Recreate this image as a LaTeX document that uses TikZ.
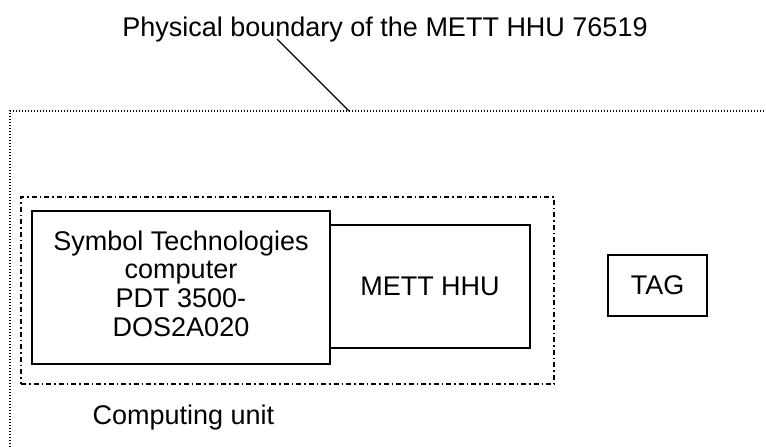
\documentclass[tikz,border=0pt]{standalone}
\usepackage{fontspec}
\setmainfont{Liberation Sans}
\begin{document}
\begin{tikzpicture}[x=1pt,y=-1pt,
  box/.style={draw,line width=1.3pt,fill=white,inner sep=0pt,align=center,
    font=\fontsize{27}{28.7}\selectfont},
  lbl/.style={inner sep=0pt,font=\fontsize{27}{28.7}\selectfont},
  dotline/.style={line width=1.3pt,dash pattern=on 1.4pt off 1.6pt},
  dashdot/.style={line width=1.3pt,dash pattern=on 5pt off 3pt on 1.5pt off 3pt}]
\useasboundingbox (0,0) rectangle (766,447);
% physical boundary
\coordinate (bl) at (10,447);
\coordinate (tl) at (10,111);
\coordinate (tr) at (766,111);
\coordinate (hit) at (349,111);
\draw[dotline] (bl) -- (tl) -- (tr);
\node[lbl,anchor=base] (title) at (385,36) {Physical boundary of the METT HHU 76519};
\coordinate (ls) at (277,39);
\draw[line width=1.2pt] (ls) -- (hit);
% computing unit
\node[draw,dashdot,minimum width=533pt,minimum height=187pt,inner sep=0pt] (cu) at (287.5,290.5) {};
\node[box,minimum width=200pt,minimum height=123pt] (mett) at (430,286.5) {METT HHU};
\node[box,minimum width=298pt,minimum height=153pt] (sym) at (181,287.5)
  {\raisebox{2pt}{\begin{tabular}{@{}c@{}}Symbol Technologies\\computer\\PDT 3500-\\DOS2A020\end{tabular}}};
\node[box,minimum width=99pt,minimum height=61pt] (tag) at (657.5,285.5) {TAG};
\begin{scope}
\clip (60,395) rectangle (320,429);
\node[lbl,anchor=base] (cul) at (183.5,424) {Computing unit};
\end{scope}
\end{tikzpicture}
\end{document}
